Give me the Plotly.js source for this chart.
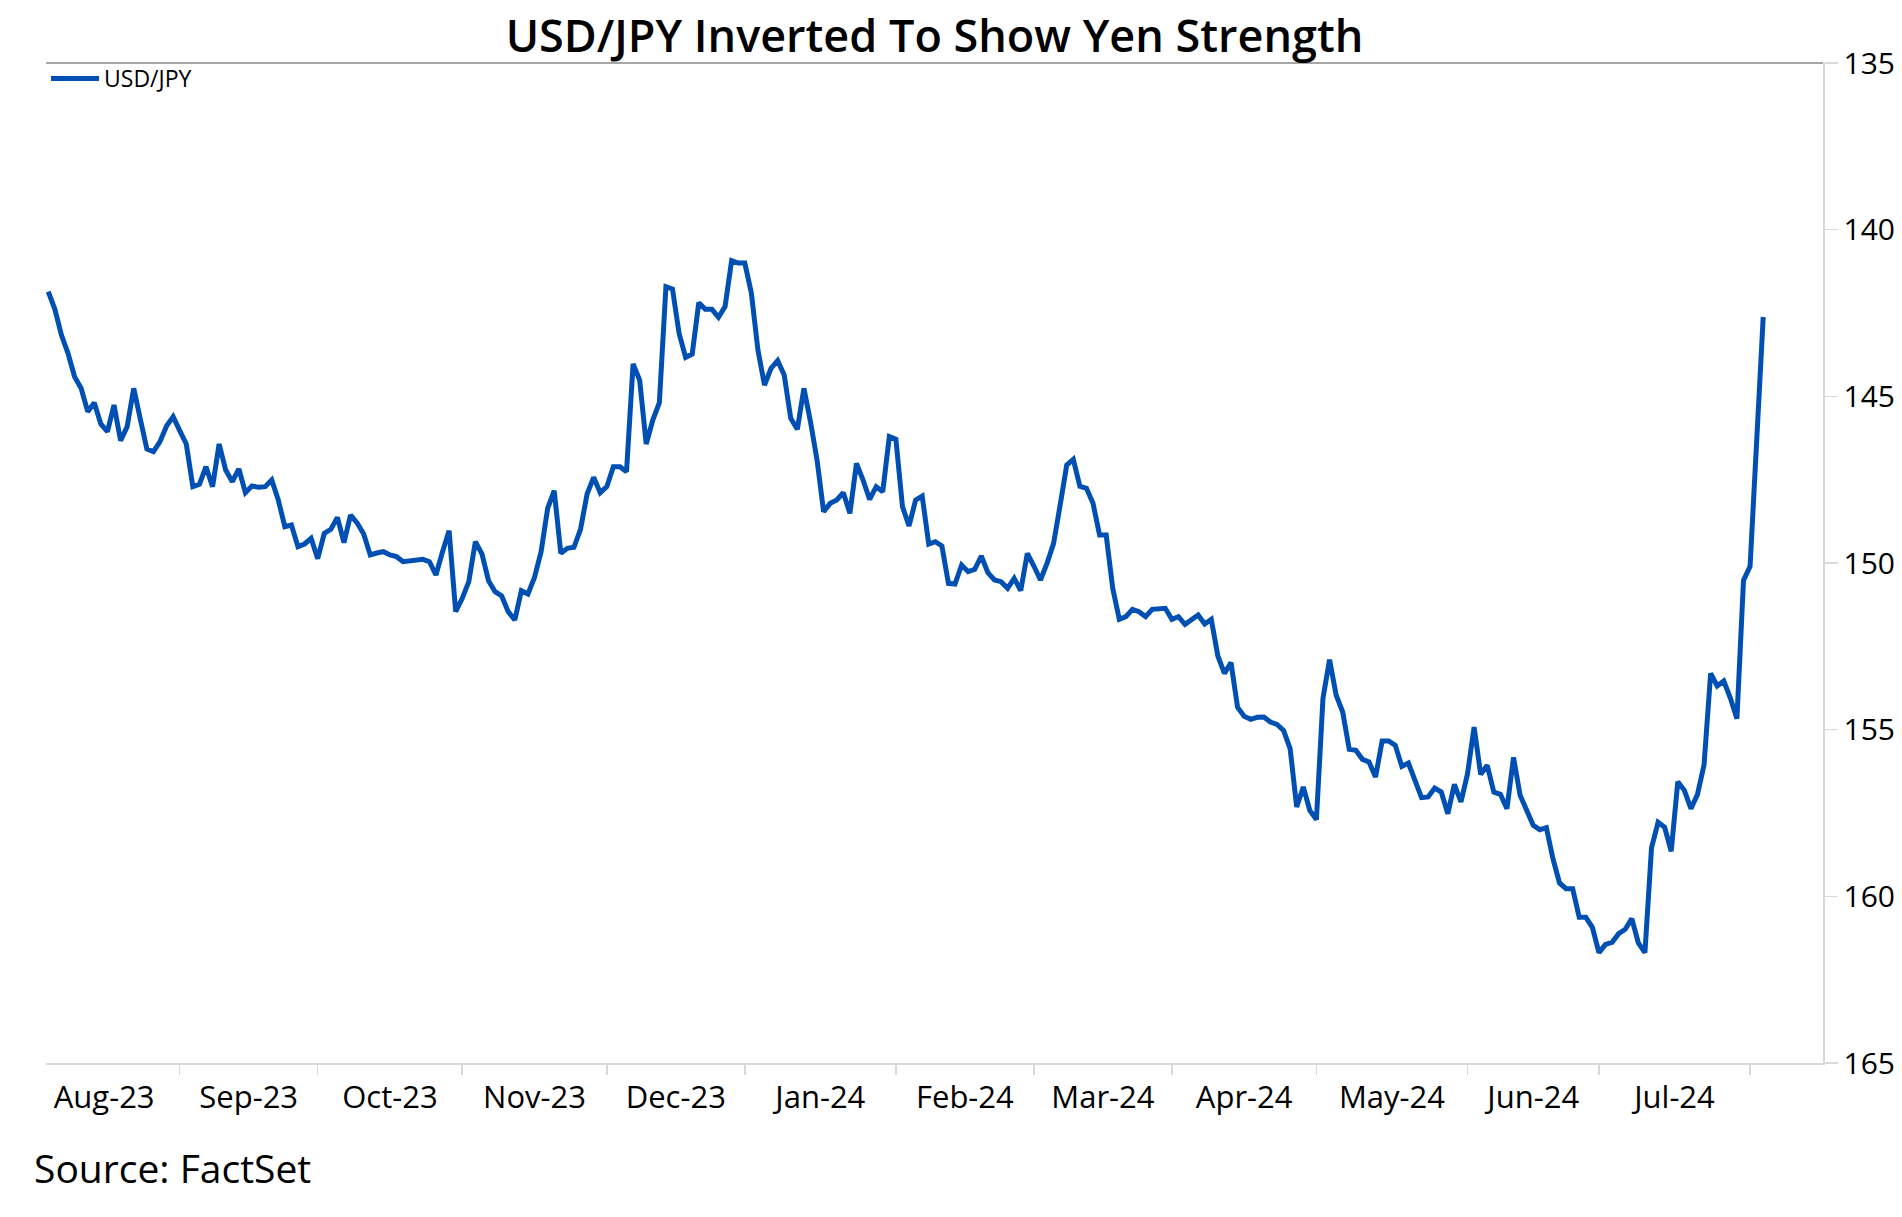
<!DOCTYPE html>
<html>
<head>
<meta charset="utf-8">
<script src="https://cdn.plot.ly/plotly-3.0.1.min.js"></script>
<style>html,body{margin:0;padding:0;background:#fff;}#chart{width:1902px;height:1217px;}</style>
</head>
<body>
<div id="chart"></div>
<script>
// USD/JPY daily (weekday) closes, grouped by month
var START_DATE = '2023-08-04';
var aug23 = [141.86,142.39,143.16,143.71,144.41,144.76,145.46,145.19,145.83,146.06,145.26,146.33,145.91,144.76,145.68,146.58,146.66,146.36,145.89,145.61];
var sep23 = [146.03,146.43,147.71,147.64,147.11,147.71,146.43,147.21,147.56,147.18,147.89,147.69,147.73,147.71,147.51,148.11,148.91,148.86,149.51,149.43,149.26];
var oct23 = [149.87,149.11,148.99,148.63,149.39,148.56,148.80,149.13,149.76,149.70,149.66,149.76,149.81,149.96,149.93,149.89,149.89,149.96,150.36,149.66,149.03,151.46];
var nov23 = [151.06,150.56,149.36,149.73,150.53,150.86,150.99,151.46,151.71,150.83,150.93,150.43,149.66,148.36,147.83,149.71,149.56,149.53,148.99,147.93,147.43,147.89];
var dec23 = [147.71,147.11,147.11,147.26,144.03,144.51,146.43,145.71,145.19,141.71,141.78,143.11,143.83,143.73,142.19,142.39,142.39,142.63,142.31,140.93,141.00];
var jan24 = [141.00,141.90,143.61,144.66,144.16,143.93,144.36,145.66,145.99,144.76,145.76,146.91,148.46,148.21,148.11,147.89,148.51,147.01,147.51,148.09,147.71,147.86,146.21];
var feb24 = [146.29,148.31,148.89,148.11,147.99,149.43,149.36,149.49,150.61,150.63,150.06,150.26,150.19,149.79,150.29,150.51,150.56,150.76,150.46,150.83,149.71];
var mar24 = [150.09,150.51,150.01,149.41,148.26,147.06,146.89,147.70,147.76,148.21,149.16,149.16,150.76,151.69,151.61,151.39,151.46,151.61,151.39,151.36,151.36];
var apr24 = [151.69,151.61,151.84,151.71,151.56,151.83,151.69,152.79,153.31,152.99,154.33,154.60,154.69,154.63,154.62,154.77,154.84,155.02,155.57,157.32,156.72,157.42];
var may24 = [157.70,154.06,152.90,153.96,154.47,155.59,155.62,155.89,155.97,156.42,155.34,155.34,155.47,156.10,156.00,156.52,157.04,157.02,156.75,156.87,157.52,156.64,157.17];
var jun24 = [156.32,154.92,156.34,156.07,156.87,156.94,157.37,155.83,156.97,157.42,157.87,158.00,157.94,158.87,159.60,159.77,159.77,160.63,160.63,160.93];
var jul24 = [161.69,161.44,161.38,161.12,160.99,160.67,161.40,161.69,158.55,157.78,157.93,158.65,156.56,156.82,157.37,156.94,156.05,153.31,153.69,153.54,154.05,154.67,150.52];
var aug24 = [150.10,146.40,142.62];

var SERIES_NAME = 'USD/JPY';
var TITLE = 'USD/JPY Inverted To Show Yen Strength';
var SOURCE = 'Source: FactSet';
var Y_TICKS = [135, 140, 145, 150, 155, 160, 165];
var MONTH_LABELS = ['Aug-23','Sep-23','Oct-23','Nov-23','Dec-23','Jan-24','Feb-24','Mar-24','Apr-24','May-24','Jun-24','Jul-24'];
var FIRST_MONTH = [2023, 7]; // Aug 2023 (0-based month)

var values = [].concat(aug23, sep23, oct23, nov23, dec23, jan24, feb24, mar24, apr24, may24, jun24, jul24, aug24);

function iso(dt) { return dt.toISOString().slice(0, 10); }
function isWeekday(dt) { var w = dt.getUTCDay(); return w !== 0 && w !== 6; }
function nextDay(dt) { return new Date(dt.getTime() + 86400000); }

// weekday dates, one per value
var dates = [];
var d = new Date(START_DATE + 'T00:00:00Z');
while (dates.length < values.length) {
  if (isWeekday(d)) dates.push(iso(d));
  d = nextDay(d);
}

// month boundaries (first weekday of each month) and label positions centred in each month
var monthStarts = [];
for (var k = 0; k <= MONTH_LABELS.length; k++) {
  var m = new Date(Date.UTC(FIRST_MONTH[0], FIRST_MONTH[1] + k, 1));
  while (!isWeekday(m)) m = nextDay(m);
  monthStarts.push(m);
}
var labelPos = [];
for (var k = 0; k < MONTH_LABELS.length; k++) {
  var a = monthStarts[k], b = monthStarts[k + 1], n = 0, t = a;
  while (t < b) { if (isWeekday(t)) n++; t = nextDay(t); }
  var half = n / 2, whole = Math.floor(half), p = a, c = 0;
  while (c < whole) { p = nextDay(p); if (isWeekday(p)) c++; }
  var hrs = Math.round((half - whole) * 24);
  labelPos.push(iso(p) + ' ' + (hrs < 10 ? '0' : '') + hrs + ':00');
}
var boundaryVals = monthStarts.map(iso);

var FONT = '"Open Sans", "Noto Sans", "DejaVu Sans", sans-serif';

var trace = {
  x: dates, y: values, type: 'scatter', mode: 'lines', name: SERIES_NAME,
  line: {color: '#0050b4', width: 5}
};

var layout = {
  width: 1902, height: 1217,
  margin: {l: 46, r: 79, t: 63, b: 154, pad: 0},
  paper_bgcolor: '#ffffff', plot_bgcolor: '#ffffff',
  font: {family: FONT, color: '#000000'},
  title: {text: TITLE, font: {family: FONT, size: 45, weight: 600, color: '#000000'},
          x: 0.5, xref: 'paper', xanchor: 'center', y: 1 - 36 / 1217, yref: 'container', yanchor: 'middle'},
  showlegend: true,
  legend: {x: 0, y: 1.006, xanchor: 'left', yanchor: 'top', bgcolor: 'rgba(0,0,0,0)',
           font: {family: FONT, size: 23, color: '#000000'}, itemwidth: 48},
  xaxis: {
    type: 'date', range: ['2023-08-03 15:36', '2024-08-16 02:24'],
    rangebreaks: [{bounds: ['sat', 'mon']}],
    tickmode: 'array', tickvals: labelPos, ticktext: MONTH_LABELS,
    ticks: 'outside', ticklen: 6, tickcolor: 'rgba(0,0,0,0)',
    minor: {tickmode: 'array', tickvals: boundaryVals, ticks: 'outside', ticklen: 10,
            tickwidth: 1.5, tickcolor: '#d9d9d9', showgrid: false},
    showline: true, linecolor: '#d9d9d9', linewidth: 2,
    showgrid: false, zeroline: false,
    tickfont: {family: FONT, size: 31, color: '#000000'}
  },
  yaxis: {
    side: 'right', range: [165, 135], tickmode: 'array', tickvals: Y_TICKS,
    ticks: 'outside', ticklen: 13, tickwidth: 1.5, tickcolor: '#d9d9d9',
    showline: true, linecolor: '#d9d9d9', linewidth: 1.5,
    showgrid: false, zeroline: false,
    tickfont: {family: FONT, size: 30, color: '#000000'}
  },
  shapes: [{type: 'line', xref: 'paper', yref: 'paper', x0: 0, x1: 1, y0: 1, y1: 1,
            line: {color: '#a6a6a6', width: 2}}],
  annotations: [{text: SOURCE, xref: 'paper', yref: 'paper', x: -14.5 / 1777, y: -104 / 1000,
                 xanchor: 'left', yanchor: 'middle', showarrow: false,
                 font: {family: FONT, size: 39, color: '#000000'}}]
};

Plotly.newPlot('chart', [trace], layout, {displayModeBar: false, staticPlot: true});
</script>
</body>
</html>
